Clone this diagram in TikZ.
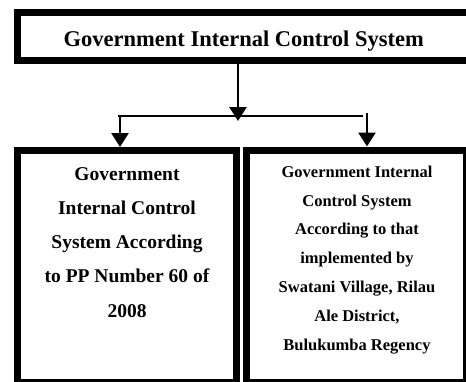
\documentclass[tikz,border=0pt]{standalone}
\usepackage{fontspec}
\setmainfont{Liberation Serif}
\usetikzlibrary{arrows.meta,positioning}

\tikzset{
  panel/.style={draw,line width=7pt,inner sep=0pt},
  flow/.style={line width=2.6pt,-{Triangle[length=14pt,width=17pt]}}
}

\begin{document}
\begin{tikzpicture}[x=1pt,y=-1pt]
  \useasboundingbox (0,0) rectangle (466,381);
  % boxes
  \node[panel,minimum width=452.5pt,minimum height=47.5pt,text height=24pt,text depth=3.5pt,
    font=\fontsize{22.5}{27}\selectfont\bfseries] (title) at (243.75,36.25)
    {Government Internal Control System};
  \node[panel,minimum width=219pt,minimum height=232pt] (ppbox) at (127,266.5) {};
  \node[panel,minimum width=220pt,minimum height=232.5pt] (villagebox) at (356.5,266.25) {};
  % texts (base = last line)
  \node[anchor=base,align=center,font=\fontsize{19.5}{34.25}\selectfont\bfseries] (pptext) at (127,317)
    {Government\\Internal Control\\System According\\to PP Number 60 of\\2008};
  \node[anchor=base,align=center,font=\fontsize{16.5}{28.8}\selectfont\bfseries] (villagetext) at (357,350)
    {Government Internal\\Control System\\According to that\\implemented by\\Swatani Village, Rilau\\Ale District,\\Bulukumba Regency};
  % connectors
  \coordinate (split) at (238,121);
  \coordinate (lend) at (118,116);
  \coordinate (rend) at (363,116);
  \coordinate (rtop) at (367,113);
  \draw[flow] (title.south -| split) -- (split);
  \draw[line width=1.8pt] (lend) -- (rend);
  \draw[flow] (lend -| 120,0) -- (ppbox.north -| 120,0);
  \draw[flow] (rtop) -- (villagebox.north -| rtop);
\end{tikzpicture}
\end{document}
